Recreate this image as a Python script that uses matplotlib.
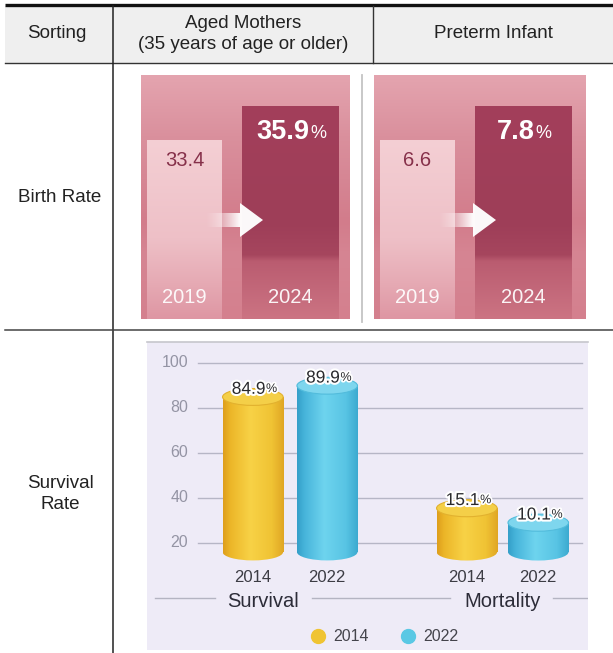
import numpy as np
import matplotlib
matplotlib.use("Agg")
import matplotlib.pyplot as plt
from matplotlib.patches import Ellipse, Polygon, Rectangle
from matplotlib.transforms import blended_transform_factory
import matplotlib.patheffects as pe

# ---------------- data ----------------
header_labels = ["Sorting", "Aged Mothers\n(35 years of age or older)", "Preterm Infant"]
row_labels = ["Birth Rate", "Survival\nRate"]
birth_years = ["2019", "2024"]
aged_mothers = [33.4, 35.9]
preterm_infant = [6.6, 7.8]
survival_years = ["2014", "2022"]
survival = [84.9, 89.9]
mortality = [15.1, 10.1]
group_labels = ["Survival", "Mortality"]
y_ticks = [20, 40, 60, 80, 100]

plt.rcParams['font.family'] = ['Liberation Sans', 'DejaVu Sans']

W, H = 613, 653
fig = plt.figure(figsize=(W / 100, H / 100), dpi=100)


def px_axes(x0, y0, x1, y1, **kw):
    return fig.add_axes([x0 / W, 1 - y1 / H, (x1 - x0) / W, (y1 - y0) / H], **kw)


def grad(stops, n=256):
    pos = np.array([s[0] for s in stops], dtype=float)
    cols = np.array([s[1] for s in stops], dtype=float) / 255.0
    t = np.linspace(0, 1, n)
    return np.stack([np.interp(t, pos, cols[:, k]) for k in range(3)], axis=-1)


# ---------------- table frame ----------------
bg = fig.add_axes([0, 0, 1, 1])
bg.set_xlim(0, W)
bg.set_ylim(H, 0)
bg.axis('off')
bg.add_patch(Rectangle((5, 6), W - 5, 57, facecolor='#efefef', edgecolor='none', zorder=0))
bg.plot([5, W], [5, 5], color='#111111', lw=2.4, solid_capstyle='butt')
bg.plot([5, W], [63, 63], color='#333333', lw=1.0)
bg.plot([113, 113], [6, H], color='#222222', lw=1.1)
bg.plot([373, 373], [6, 63], color='#333333', lw=1.0)
bg.plot([5, W], [330, 330], color='#444444', lw=1.1)
bg.plot([362, 362], [75, 322], color='#c4c4c4', lw=1.3)

hdr_x = [57, 243, 493]
for x, lab in zip(hdr_x, header_labels):
    bg.text(x, 34, lab, ha='center', va='center', fontsize=13.5, color='#222222',
            linespacing=1.25)
bg.text(60, 197, row_labels[0], ha='center', va='center', fontsize=13.5, color='#222222')
bg.text(60, 494, row_labels[1], ha='center', va='center', fontsize=13.5, color='#222222',
        linespacing=1.25)

# ---------------- birth-rate panels ----------------
PANEL_TOP, PANEL_BOT = 75, 319
LIGHT_TOP_PX, DARK_TOP_PX = 140, 106

bg_grad = grad([(0, (228, 164, 175)), (0.25, (218, 144, 157)), (0.6, (210, 124, 139)),
                (0.74, (214, 133, 147)), (1.0, (212, 128, 142))])[:, None, :]
light_grad = grad([(0, (244, 207, 212)), (0.55, (238, 192, 199)), (0.8, (230, 170, 180)),
                   (1.0, (222, 150, 163))])[:, None, :]
dark_grad = grad([(0, (163, 63, 91)), (0.55, (158, 62, 88)), (0.7, (166, 70, 94)),
                  (0.73, (186, 92, 112)), (1.0, (204, 116, 131))])[:, None, :]


def birth_panel(x0, x1, vals):
    ax = px_axes(x0, PANEL_TOP, x1, PANEL_BOT)
    ax.axis('off')
    hpx = PANEL_BOT - PANEL_TOP
    fa = (PANEL_BOT - LIGHT_TOP_PX) / hpx
    fb = (PANEL_BOT - DARK_TOP_PX) / hpx
    R = (vals[1] - vals[0]) / (fb - fa)
    lo = vals[0] - fa * R
    hi = lo + R
    sep, first = 105.5, 43.5
    xl = (-first / sep, (x1 - x0 - first) / sep)

    ax.imshow(bg_grad, extent=[xl[0], xl[1], lo, hi], aspect='auto', zorder=0)
    bars = ax.bar(range(len(vals)), np.array(vals) - lo, bottom=lo, width=[0.71, 0.91],
                  color='none', linewidth=0, zorder=2)
    for p, g in zip(bars, [light_grad, dark_grad]):
        bx, by = p.get_x(), p.get_y()
        im = ax.imshow(g, extent=[bx, bx + p.get_width(), by, by + p.get_height()],
                       aspect='auto', zorder=2)
        im.set_clip_path(p)

    # arrow
    def fx(px):
        return (px - x0) / (x1 - x0)

    def fy(py):
        return (PANEL_BOT - py) / hpx
    tail, base, tip = x0 + 64, x0 + 99, x0 + 122
    yc, sh, hh = 220, 7, 17
    pts = [(fx(tail), fy(yc + sh)), (fx(base), fy(yc + sh)), (fx(base), fy(yc + hh)),
           (fx(tip), fy(yc)), (fx(base), fy(yc - hh)), (fx(base), fy(yc - sh)),
           (fx(tail), fy(yc - sh))]
    poly = Polygon(pts, closed=True, transform=ax.transAxes, facecolor='none',
                   edgecolor='none', zorder=5)
    ax.add_patch(poly)
    img = np.ones((1, 256, 4))
    t = np.linspace(0, 1, 256)
    img[0, :, 3] = np.clip(t / 0.6, 0, 1) ** 1.3 * 0.97
    im = ax.imshow(img, extent=[fx(tail), fx(tip), fy(yc + hh), fy(yc - hh)],
                   transform=ax.transAxes, aspect='auto', zorder=5)
    im.set_clip_path(poly)

    ax.annotate(f"{vals[0]}", xy=(0, vals[0]), xytext=(0, -14.5), textcoords='offset points',
                ha='center', va='center', fontsize=14.5, color='#86304a', zorder=6)
    tx = ax.annotate(f"{vals[1]}", xy=(1, vals[1]), xytext=(-5, -18.5),
                     textcoords='offset points', ha='center', va='center', fontsize=19.5,
                     fontweight='bold', color='white', zorder=6)
    ax.annotate('%', xy=(1, 0.1), xycoords=tx, xytext=(0.5, 0), textcoords='offset points',
                ha='left', va='bottom', fontsize=13, color='white', zorder=6)
    btr = blended_transform_factory(ax.transData, ax.transAxes)
    for i, yr in enumerate(birth_years):
        ax.text(i, 0.09, yr, transform=btr, ha='center', va='center', fontsize=14.5,
                color='white', alpha=0.93, zorder=6)
    ax.set_xlim(xl)
    ax.set_ylim(lo, hi)


birth_panel(141, 350, aged_mothers)
birth_panel(374, 586, preterm_infant)

# ---------------- survival chart ----------------
cx0, cy0, cx1, cy1 = 147, 342, 588, 650
ax2 = px_axes(cx0, cy0, cx1, cy1)
ax2.set_facecolor('#eeebf7')
for s in ax2.spines.values():
    s.set_visible(False)
ax2.set_xticks([])
ax2.set_yticks([])
ax2.set_ylim(-27.56, 109.33)
ax2.set_xlim(-0.673, 1.402)
ax2.plot([0, 1], [1, 1], transform=ax2.transAxes, color='#c6c6cc', lw=1.2, clip_on=False)

ytr = blended_transform_factory(ax2.transAxes, ax2.transData)
for tval in y_ticks:
    ax2.plot([0.1156, 0.986], [tval, tval], transform=ytr, color='#b6b6c6', lw=1.0, zorder=1)
    ax2.text(0.093, tval, str(tval), transform=ytr, ha='right', va='center',
             fontsize=11.5, color='#9494a4')

tw = ax2.twinx()
tw.set_ylim(-33.8, 72.4)
tw.axis('off')

yellow_body = grad([(0, (222, 158, 28)), (0.12, (236, 182, 40)), (0.45, (248, 210, 70)),
                    (0.8, (240, 195, 52)), (1.0, (224, 166, 36))])[None, :, :]
blue_body = grad([(0, (52, 158, 200)), (0.12, (70, 180, 218)), (0.45, (110, 212, 238)),
                  (0.8, (88, 196, 228)), (1.0, (60, 170, 208))])[None, :, :]
series_style = [(yellow_body, '#f4cf48', '#e2b12e'), (blue_body, '#7ed6ee', '#52bcdc')]

offs = [-0.175, 0.175]
BW = 0.285


def cylinder(ax, x, val, base, eh, body, topc, edgec):
    bars = ax.bar([x], [val - base], bottom=base, width=BW, color='none', linewidth=0, zorder=3)
    p = bars[0]
    im = ax.imshow(body, extent=[x - BW / 2, x + BW / 2, base - eh, val], aspect='auto', zorder=3)
    im.set_clip_path(p)
    e_bot = Ellipse((x, base), BW, eh, facecolor='none', edgecolor='none', zorder=3)
    ax.add_patch(e_bot)
    im2 = ax.imshow(body, extent=[x - BW / 2, x + BW / 2, base - eh, val], aspect='auto', zorder=3)
    im2.set_clip_path(e_bot)
    ax.add_patch(Ellipse((x, val), BW, eh, facecolor=topc, edgecolor=edgec, lw=0.8, zorder=4))


def value_label(ax, x, val, dx):
    t = ax.annotate(f"{val}", xy=(x, val), xytext=(dx, 5.5), textcoords='offset points',
                    ha='center', va='center', fontsize=12.5, color='#2a2a2e', zorder=6,
                    path_effects=[pe.withStroke(linewidth=3, foreground='white')])
    ax.annotate('%', xy=(1, 0.12), xycoords=t, xytext=(0.3, 0), textcoords='offset points',
                ha='left', va='bottom', fontsize=9, color='#2a2a2e', zorder=6,
                path_effects=[pe.withStroke(linewidth=2.5, foreground='white')])


# survival (main axis)
for i, val in enumerate(survival):
    x = 0 + offs[i]
    body, topc, edgec = series_style[i]
    cylinder(ax2, x, val, 16, 7.5, body, topc, edgec)
    value_label(ax2, x, val, -3)
# mortality (twin axis)
for i, val in enumerate(mortality):
    x = 1 + offs[i] * 0.96
    body, topc, edgec = series_style[i]
    cylinder(tw, x, val, 0, 5.9, body, topc, edgec)
    value_label(tw, x, val, -3)

ax2.set_ylim(-27.56, 109.33)
ax2.set_xlim(-0.673, 1.402)
tw.set_ylim(-33.8, 72.4)

xtr = blended_transform_factory(ax2.transData, ax2.transAxes)
for g in range(2):
    for i, yr in enumerate(survival_years):
        ax2.text(g + offs[i] * (1 if g == 0 else 0.96), 0.234, yr, transform=xtr,
                 ha='center', va='center', fontsize=12, color='#3c3c44')
group_x = [-0.125, 0.0]
for g, lab in enumerate(group_labels):
    ax2.text(g + group_x[g], 0.156, lab, transform=xtr, ha='center', va='center',
             fontsize=14.5, color='#2c2c38')
for a, b in [(0.018, 0.154), (0.374, 0.687), (0.921, 0.998)]:
    ax2.plot([a, b], [0.169, 0.169], transform=ax2.transAxes, color='#b4b4c2', lw=1.0)

# legend
leg_cols = ['#f0c432', '#5ac8e4']
leg_mark_x = [0.388, 0.592]
for i, yr in enumerate(survival_years):
    ax2.plot([leg_mark_x[i]], [0.045], 'o', transform=ax2.transAxes, color=leg_cols[i],
             markersize=10, clip_on=False)
    ax2.text(leg_mark_x[i] + 0.034, 0.045, yr, transform=ax2.transAxes, ha='left',
             va='center', fontsize=11.5, color='#44444c')

fig.savefig('out.png', dpi=100)
